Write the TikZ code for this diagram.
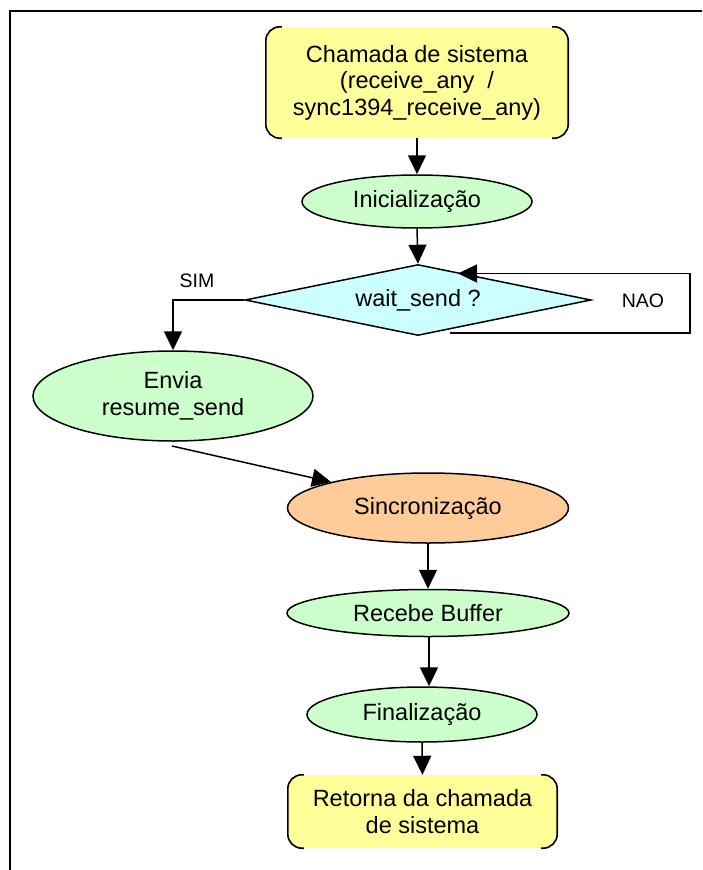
\documentclass[tikz,border=0pt]{standalone}
\usepackage{fontspec}
\setmainfont{Liberation Sans}
\usetikzlibrary{shapes.geometric,arrows.meta}
\definecolor{boxyellow}{RGB}{255,255,153}
\definecolor{ovalgreen}{RGB}{204,255,204}
\definecolor{diacyan}{RGB}{204,255,255}
\definecolor{ovalorange}{RGB}{255,204,153}
\tikzset{
  mainfont/.style={font=\fontsize{23.5}{26.5}\selectfont},
  lblfont/.style={font=\fontsize{19.5}{22}\selectfont},
  termbox/.style={rectangle, rounded corners=14pt, fill=boxyellow, inner sep=0pt, align=center, mainfont},
  bracket/.style={line width=1.6pt, rounded corners=14pt},
  oval/.style={ellipse, draw, line width=1.5pt, inner sep=0pt, align=center, mainfont},
  decis/.style={diamond, draw, line width=1.5pt, fill=diacyan, inner sep=0pt, aspect=4.87, mainfont},
  conn/.style={line width=1.5pt, -{Triangle[length=19pt,width=18pt]}},
  plainline/.style={line width=1.5pt}
}
\begin{document}
\begin{tikzpicture}[x=1pt,y=-1pt]
\useasboundingbox (0,0) rectangle (702,870);
% outer frame (only left and top visible)
\draw[line width=2pt] (10,870) -- (10,11) -- (702,11);

% top terminal box
\node[termbox, minimum width=302pt, minimum height=111pt] (top) at (417,82.5)
  {Chamada de sistema\\(receive\_any\ \ /\\sync1394\_receive\_any)};
\draw[bracket] ([xshift=16pt]top.north west) -- (top.north west) -- (top.south west) -- ([xshift=16pt]top.south west);
\draw[bracket] ([xshift=-16pt]top.north east) -- (top.north east) -- (top.south east) -- ([xshift=-16pt]top.south east);

% Inicializacao
\node[oval, fill=ovalgreen, minimum width=230pt, minimum height=53pt] (init) at (417,201.5) {Inicialização};

% decision
\node[decis, minimum width=346pt, minimum height=71pt] (dec) at (418,300) {wait\_send ?};

% Envia resume_send
\node[oval, fill=ovalgreen, minimum width=280pt, minimum height=90pt] (envia) at (173,396) {Envia\\resume\_send};

% Sincronizacao
\node[oval, fill=ovalorange, minimum width=281pt, minimum height=70pt] (sinc) at (428,508) {Sincronização};

% Recebe Buffer
\node[oval, fill=ovalgreen, minimum width=282pt, minimum height=47pt] (rec) at (428,613) {Recebe Buffer};

% Finalizacao
\node[oval, fill=ovalgreen, minimum width=230pt, minimum height=55pt] (fin) at (422,714.5) {Finalização};

% bottom terminal box
\node[termbox, minimum width=269pt, minimum height=73pt] (ret) at (422.5,811.5)
  {Retorna da chamada\\de sistema};
\draw[bracket] ([xshift=16pt]ret.north west) -- (ret.north west) -- (ret.south west) -- ([xshift=16pt]ret.south west);
\draw[bracket] ([xshift=-16pt]ret.north east) -- (ret.north east) -- (ret.south east) -- ([xshift=-16pt]ret.south east);

% labels
\node[lblfont] (sim) at (197,281) {SIM};
\node[lblfont] (nao) at (643,301) {NAO};

% helper coordinates
\coordinate (loopstart) at (450,333);
\coordinate (loopend) at (458,273.5);
\coordinate (enviaout) at (172,446);

% connectors
\draw[conn] (top.south) -- (init.north);
\draw[conn] (init.south) -- (dec.north);
\draw[conn] (dec.west) -| (envia.north);
\draw[conn] (loopstart) -- (690,333) -- (690,273.5) -- (loopend);
\draw[conn] (enviaout) -- (sinc.165);
\draw[conn] (sinc.south) -- (rec.north);
\draw[conn] ([xshift=1pt]rec.south) -- ([xshift=1pt]rec.south |- fin.north);
\draw[conn] (fin.south) -- (ret.north);
\end{tikzpicture}
\end{document}
